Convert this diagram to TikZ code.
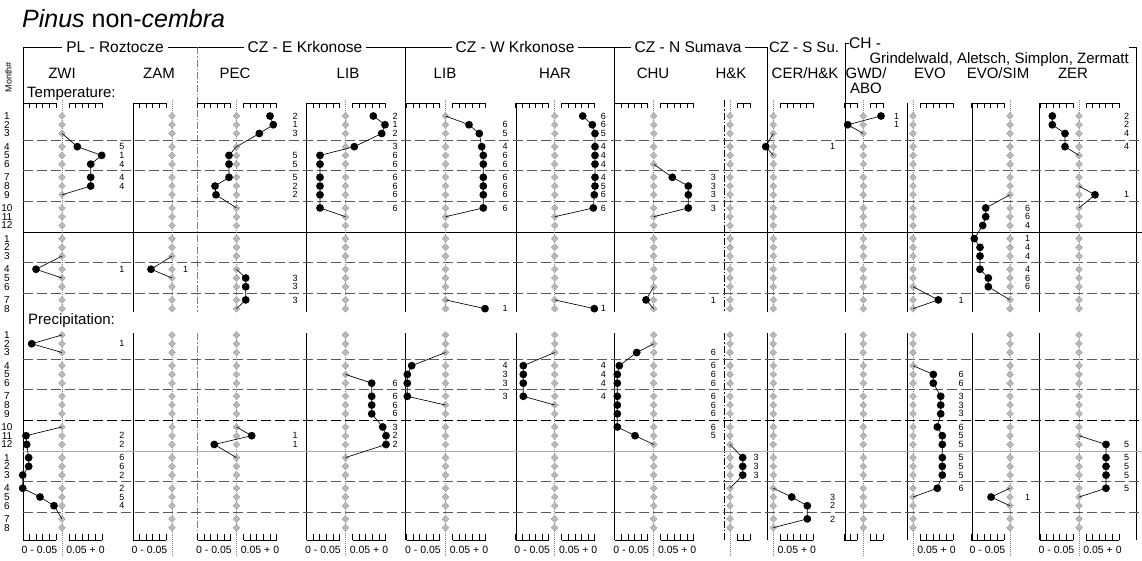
\documentclass[tikz,border=0pt]{standalone}
\usepackage{fontspec}
\setmainfont{Liberation Sans}
\usetikzlibrary{shapes.geometric}
\pgfmathdeclarefunction{ry}{1}{\pgfmathparse{116+8.75*#1+4.4*floor(#1/3)}}
\pgfmathdeclarefunction{rp}{1}{\pgfmathparse{335+8.75*#1+4.4*floor(#1/3)}}
\newcommand\labsT[2]{\foreach \k/\t in {#2} \node[lab] at (#1,{ry(\k)}) {\t};}
\newcommand\labsP[2]{\foreach \k/\t in {#2} \node[lab] at (#1,{rp(\k)}) {\t};}
\newcommand\hsc[3]{%
  \draw[ax] (#1,103) -- (#2,103);
  \draw[ax] (#1,540) -- (#2,540);
  \foreach \i in {0,...,#3} {%
    \draw[ax] ({(#1)+((#2)-(#1))*\i/#3},103) -- ++(0,5);
    \draw[ax] ({(#1)+((#2)-(#1))*\i/#3},540) -- ++(0,-6);}}
\begin{document}
\begin{tikzpicture}[x=1pt,y=-1pt,
  ax/.style={line width=0.7pt},
  hl/.style={line width=0.8pt,dash pattern=on 10pt off 4pt,gray!70!black},
  dd/.style={line width=0.7pt,dash pattern=on 7pt off 2pt on 1.5pt off 2pt},
  cl/.style={line width=0.6pt,gray,dash pattern=on 0.8pt off 1.2pt},
  ser/.style={line width=0.65pt},
  dot/.style={circle,fill=black,inner sep=0pt,minimum size=7.8pt},
  dia/.style={diamond,fill=gray!55,draw=gray!80,line width=0.3pt,inner sep=0pt,minimum size=7pt},
  lab/.style={font=\fontsize{9}{10}\selectfont,inner sep=0pt},
  mon/.style={font=\fontsize{10}{11}\selectfont,inner sep=0pt},
  sl/.style={font=\fontsize{10.5}{11}\selectfont,inner sep=0pt,anchor=base},
  grp/.style={font=\fontsize{15.5}{17}\selectfont,inner sep=0pt,anchor=base},
  pn/.style={font=\fontsize{15}{16}\selectfont,inner sep=0pt,anchor=base},
  gap/.style={fill=white,inner xsep=4pt,inner ysep=1pt}]
\useasboundingbox (0,0) rectangle (1142,560);
% title
\node[anchor=base west,inner sep=0pt,font=\fontsize{25}{27}\selectfont] (title) at (22,27) {\textit{Pinus} non-\textit{cembra}};
% group bracket line
\draw[ax] (23,540) -- (23,47) -- (767,47) -- (767,312);
\draw[ax] (767,333) -- (767,540);
\node[grp,gap] (gPL) at (115,52.5) {PL - Roztocze};
\node[grp,gap] (gCE) at (305,52.5) {CZ - E Krkonose};
\node[grp,gap] (gCW) at (515,52.5) {CZ - W Krkonose};
\node[grp,gap] (gCN) at (688,52.5) {CZ - N Sumava};
\node[grp,font=\fontsize{15}{16}\selectfont] (gCS) at (804,52.5) {CZ - S Su.};
\draw[ax] (849,43) -- (845,43) -- (845,312);
\draw[ax] (845,333) -- (845,540);
\node[grp,anchor=base west] (gCH) at (849,48.5) {CH -};
\node[grp,anchor=base east,font=\fontsize{15}{16}\selectfont] (gCH2) at (1129,63) {Grindelwald, Aletsch, Simplon, Zermatt};
\draw[ax] (1129,47) -- (1136,47) -- (1136,540);
% group dividers
\foreach \x in {405,614} {\draw[ax] (\x,47) -- (\x,312); \draw[ax] (\x,333) -- (\x,540);}
\draw[dd,gray] (197,47) -- (197,312); \draw[dd,gray] (197,333) -- (197,540);
% panel lines
\foreach \x in {133,306,516,907,972,1039} {\draw[ax] (\x,103) -- (\x,312); \draw[ax] (\x,333) -- (\x,540);}
\draw[dd] (724,100) -- (724,312); \draw[dd] (724,333) -- (724,540);
% horizontal separators
\foreach \y in {140.1,170.7,201.4,262.7,293.3,359.1,389.7,481.7,512.3} \draw[hl] (23,\y) -- (1142,\y);
\draw[hl,black] (23,420.4) -- (1142,420.4);
\draw[ax] (23,232) -- (1142,232);
\draw[ax,gray!65] (23,451) -- (1142,451);
% panel names
\node[pn] (nZWI) at (62,78.5) {ZWI};
\node[pn] (nZAM) at (159,78.5) {ZAM};
\node[pn] (nPEC) at (235,78.5) {PEC};
\node[pn] (nLIBE) at (348,78.5) {LIB};
\node[pn] (nLIBW) at (445,78.5) {LIB};
\node[pn] (nHAR) at (555,78.5) {HAR};
\node[pn] (nCHU) at (653,78.5) {CHU};
\node[pn] (nHK) at (731,78.5) {H\&K};
\node[pn] (nCER) at (805,78.5) {CER/H\&K};
\node[pn] (nGWD) at (866,78.5) {GWD/};
\node[pn] (nABO) at (866,93) {ABO};
\node[pn] (nEVO) at (930,78.5) {EVO};
\node[pn] (nES) at (998,78.5) {EVO/SIM};
\node[pn] (nZER) at (1073,78.5) {ZER};
\node[pn,anchor=base west] (tT) at (27,97) {Temperature:};
\node[pn,anchor=base west] (tP) at (28,324.5) {Precipitation:};
\node[font=\fontsize{9}{10}\selectfont,rotate=90,inner sep=0pt] (mh) at (8.5,77) {Month\#};
% month numbers
\foreach \k in {0,...,19} {\pgfmathtruncatemacro\m{\k<12 ? \k+1 : \k-11}
  \node[mon] at (7,{ry(\k)}) {\m}; \node[mon] at (7,{rp(\k)}) {\m};}
% scales
\foreach \c in {62,172,236.5,345.5,445.5,554.7,653.7,1010,1079} {\hsc{\c-39}{\c-6}{5} \node[sl] at ({\c-22.5},553) {0 - 0.05};}
\foreach \c in {62,236.5,345.5,445.5,554.7,653.7,773.3,913,1079} {\hsc{\c+7}{\c+40}{5} \node[sl] at ({\c+23.5},553) {0.05 + 0};}
\hsc{844.3}{857.3}{2}
\hsc{870.3}{883.3}{2}
\hsc{737}{750}{2}
% centre lines and diamonds
\foreach \c in {62,172,236.5,345.5,445.5,554.7,653.7,730,773.3,863.3,913,1010,1079} {
  \draw[cl] (\c,100) -- (\c,312); \draw[cl] (\c,333) -- (\c,556);
  \foreach \k in {0,...,19} {\node[dia] at (\c,{ry(\k)}) {}; \node[dia] at (\c,{rp(\k)}) {};}}
% ---- series ----
% ZWI
\draw[ser] (62,{ry(2)}) -- (77.3,{ry(3)}) node[dot]{} -- (101.7,{ry(4)}) node[dot]{} -- (90.7,{ry(5)}) node[dot]{} -- (90.7,{ry(6)}) node[dot]{} -- (90.7,{ry(7)}) node[dot]{} -- (62,{ry(8)});
\draw[ser] (62,{ry(14)}) -- (36,{ry(15)}) node[dot]{} -- (62,{ry(16)});
\draw[ser] (62,{rp(0)}) -- (31.7,{rp(1)}) node[dot]{} -- (62,{rp(2)});
\draw[ser] (62,{rp(9)}) -- (26,{rp(10)}) node[dot]{} -- (26.7,{rp(11)}) node[dot]{} -- (28.7,{rp(12)}) node[dot]{} -- (28.7,{rp(13)}) node[dot]{} -- (22.7,{rp(14)}) node[dot]{} -- (22.7,{rp(15)}) node[dot]{} -- (40,{rp(16)}) node[dot]{} -- (54,{rp(17)}) node[dot]{} -- (62,{rp(18)});
\labsT{122}{3/5,4/1,5/4,6/4,7/4,15/1}
\labsP{122}{1/1,10/2,11/2,12/6,13/6,14/2,15/2,16/5,17/4}
% ZAM
\draw[ser] (172,{ry(14)}) -- (151,{ry(15)}) node[dot]{} -- (172,{ry(16)});
\labsT{185.7}{15/1}
% PEC
\draw[ser] (270,{ry(0)}) node[dot]{} -- (273.3,{ry(1)}) node[dot]{} -- (259.3,{ry(2)}) node[dot]{} -- (236.5,{ry(3)}) -- (229,{ry(4)}) node[dot]{} -- (229,{ry(5)}) node[dot]{} -- (229,{ry(6)}) node[dot]{} -- (215,{ry(7)}) node[dot]{} -- (216,{ry(8)}) node[dot]{} -- (236.5,{ry(9)});
\draw[ser] (236.5,{ry(15)}) -- (245.7,{ry(16)}) node[dot]{} -- (245.7,{ry(17)}) node[dot]{} -- (245.7,{ry(18)}) node[dot]{} -- (236.5,{ry(19)});
\draw[ser] (236.5,{rp(9)}) -- (251.7,{rp(10)}) node[dot]{} -- (214.3,{rp(11)}) node[dot]{} -- (236.5,{rp(12)});
\labsT{295}{0/2,1/1,2/3,4/5,5/5,6/5,7/2,8/2,16/3,17/3,18/3}
\labsP{295}{10/1,11/1}
% LIB E
\draw[ser] (373.3,{ry(0)}) node[dot]{} -- (385,{ry(1)}) node[dot]{} -- (381.7,{ry(2)}) node[dot]{} -- (354.3,{ry(3)}) node[dot]{} -- (320,{ry(4)}) node[dot]{} -- (320,{ry(5)}) node[dot]{} -- (320,{ry(6)}) node[dot]{} -- (320,{ry(7)}) node[dot]{} -- (320,{ry(8)}) node[dot]{} -- (320,{ry(9)}) node[dot]{} -- (345.5,{ry(10)});
\draw[ser] (345.5,{rp(4)}) -- (371.7,{rp(5)}) node[dot]{} -- (371.7,{rp(6)}) node[dot]{} -- (371.7,{rp(7)}) node[dot]{} -- (371.7,{rp(8)}) node[dot]{} -- (382.7,{rp(9)}) node[dot]{} -- (386,{rp(10)}) node[dot]{} -- (386,{rp(11)}) node[dot]{} -- (345.5,{rp(12)});
\labsT{395}{0/2,1/1,2/2,3/3,4/6,5/6,6/6,7/6,8/6,9/6}
\labsP{395}{5/6,6/6,7/6,8/6,9/3,10/2,11/2}
% LIB W
\draw[ser] (445.5,{ry(0)}) -- (469,{ry(1)}) node[dot]{} -- (479.3,{ry(2)}) node[dot]{} -- (481.7,{ry(3)}) node[dot]{} -- (483.3,{ry(4)}) node[dot]{} -- (483.3,{ry(5)}) node[dot]{} -- (483.3,{ry(6)}) node[dot]{} -- (483.3,{ry(7)}) node[dot]{} -- (483.3,{ry(8)}) node[dot]{} -- (483.3,{ry(9)}) node[dot]{} -- (445.5,{ry(10)});
\draw[ser] (445.5,{ry(18)}) -- (485,{ry(19)}) node[dot]{};
\draw[ser] (445.5,{rp(2)}) -- (411.7,{rp(3)}) node[dot]{} -- (407.3,{rp(4)}) node[dot]{} -- (407.3,{rp(5)}) node[dot]{} -- (407.3,{rp(6)}) node[dot]{} -- (445.5,{rp(7)});
\labsT{505}{1/6,2/5,3/4,4/6,5/6,6/6,7/6,8/6,9/6,19/1}
\labsP{505}{3/4,4/3,5/3,6/3}
% HAR
\draw[ser] (582.7,{ry(0)}) node[dot]{} -- (592.3,{ry(1)}) node[dot]{} -- (595,{ry(2)}) node[dot]{} -- (595,{ry(3)}) node[dot]{} -- (595,{ry(4)}) node[dot]{} -- (595,{ry(5)}) node[dot]{} -- (595,{ry(6)}) node[dot]{} -- (595,{ry(7)}) node[dot]{} -- (594.3,{ry(8)}) node[dot]{} -- (593.3,{ry(9)}) node[dot]{} -- (554.7,{ry(10)});
\draw[ser] (554.7,{ry(18)}) -- (594.3,{ry(19)}) node[dot]{};
\draw[ser] (554.7,{rp(2)}) -- (523.3,{rp(3)}) node[dot]{} -- (523.3,{rp(4)}) node[dot]{} -- (523.3,{rp(5)}) node[dot]{} -- (523.3,{rp(6)}) node[dot]{} -- (554.7,{rp(7)});
\labsT{603.3}{0/6,1/6,2/5,3/4,4/4,5/4,6/4,7/5,8/6,9/6,19/1}
\labsP{603.3}{3/4,4/4,5/4,6/4}
% CHU
\draw[ser] (653.7,{ry(5)}) -- (672.3,{ry(6)}) node[dot]{} -- (688.3,{ry(7)}) node[dot]{} -- (688.3,{ry(8)}) node[dot]{} -- (688.3,{ry(9)}) node[dot]{} -- (653.7,{ry(10)});
\draw[ser] (653.7,{ry(17)}) -- (646,{ry(18)}) node[dot]{} -- (653.7,{ry(19)});
\draw[ser] (653.7,{rp(1)}) -- (636.7,{rp(2)}) node[dot]{} -- (619.3,{rp(3)}) node[dot]{} -- (617.3,{rp(4)}) node[dot]{} -- (617.3,{rp(5)}) node[dot]{} -- (617.3,{rp(6)}) node[dot]{} -- (617.3,{rp(7)}) node[dot]{} -- (617.3,{rp(8)}) node[dot]{} -- (617.3,{rp(9)}) node[dot]{} -- (635,{rp(10)}) node[dot]{} -- (653.7,{rp(11)});
\labsT{713.3}{6/3,7/3,8/3,9/3,18/1}
\labsP{713.3}{2/6,3/6,4/6,5/6,6/6,7/6,8/6,9/6,10/5}
% H&K
\draw[ser] (730,{rp(11)}) -- (742.7,{rp(12)}) node[dot]{} -- (742.7,{rp(13)}) node[dot]{} -- (742.7,{rp(14)}) node[dot]{} -- (730,{rp(15)});
\labsP{756}{12/3,13/3,14/3}
% CER/H&K
\draw[ser] (773.3,{ry(2)}) -- (765.7,{ry(3)}) node[dot]{} -- (773.3,{ry(4)});
\draw[ser] (773.3,{rp(15)}) -- (791.7,{rp(16)}) node[dot]{} -- (807.3,{rp(17)}) node[dot]{} -- (807.3,{rp(18)}) node[dot]{} -- (773.3,{rp(19)});
\labsT{832.7}{3/1}
\labsP{832.7}{16/3,17/2,18/2}
% GWD/ABO
\draw[ser] (881,{ry(0)}) node[dot]{} -- (847.7,{ry(1)}) node[dot]{} -- (863.3,{ry(2)});
\labsT{896.7}{0/1,1/1}
% EVO
\draw[ser] (913,{ry(17)}) -- (938.3,{ry(18)}) node[dot]{} -- (913,{ry(19)});
\draw[ser] (913,{rp(3)}) -- (933.3,{rp(4)}) node[dot]{} -- (933.3,{rp(5)}) node[dot]{} -- (940.7,{rp(6)}) node[dot]{} -- (940.7,{rp(7)}) node[dot]{} -- (940.7,{rp(8)}) node[dot]{} -- (937.3,{rp(9)}) node[dot]{} -- (942.3,{rp(10)}) node[dot]{} -- (942.3,{rp(11)}) node[dot]{} -- (942.3,{rp(12)}) node[dot]{} -- (942.3,{rp(13)}) node[dot]{} -- (942.3,{rp(14)}) node[dot]{} -- (937.3,{rp(15)}) node[dot]{} -- (913,{rp(16)});
\labsT{961}{18/1}
\labsP{961}{4/6,5/6,6/3,7/3,8/3,9/6,10/5,11/5,12/5,13/5,14/5,15/6}
% EVO/SIM
\draw[ser] (1010,{ry(8)}) -- (985.7,{ry(9)}) node[dot]{} -- (985.7,{ry(10)}) node[dot]{} -- (982.7,{ry(11)}) node[dot]{} -- (974.3,{ry(12)}) node[dot]{} -- (980,{ry(13)}) node[dot]{} -- (980,{ry(14)}) node[dot]{} -- (980,{ry(15)}) node[dot]{} -- (988.3,{ry(16)}) node[dot]{} -- (988.3,{ry(17)}) node[dot]{} -- (1010,{ry(18)});
\draw[ser] (1010,{rp(15)}) -- (991,{rp(16)}) node[dot]{} -- (1010,{rp(17)});
\labsT{1027.7}{9/6,10/6,11/4,12/1,13/4,14/4,15/4,16/6,17/6}
\labsP{1027.7}{16/1}
% ZER
\draw[ser] (1052.3,{ry(0)}) node[dot]{} -- (1052.3,{ry(1)}) node[dot]{} -- (1065,{ry(2)}) node[dot]{} -- (1065,{ry(3)}) node[dot]{} -- (1079,{ry(4)});
\draw[ser] (1079,{ry(7)}) -- (1095,{ry(8)}) node[dot]{} -- (1079,{ry(9)});
\draw[ser] (1079,{rp(10)}) -- (1106,{rp(11)}) node[dot]{} -- (1106,{rp(12)}) node[dot]{} -- (1106,{rp(13)}) node[dot]{} -- (1106,{rp(14)}) node[dot]{} -- (1106,{rp(15)}) node[dot]{} -- (1079,{rp(16)});
\labsT{1126.7}{0/2,1/2,2/4,3/4,8/1}
\labsP{1126.7}{11/5,12/5,13/5,14/5,15/5}
\end{tikzpicture}
\end{document}
